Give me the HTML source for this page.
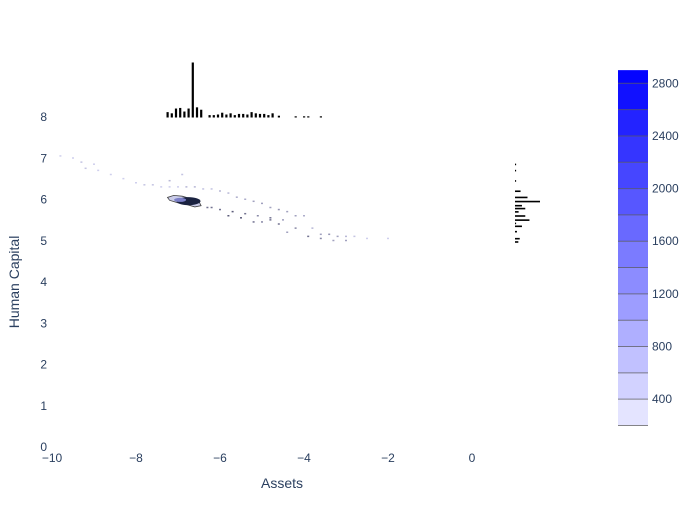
<!DOCTYPE html>
<html><head><meta charset="utf-8"><style>
body{margin:0;background:#fff;font-family:"Liberation Sans",sans-serif}
svg text{font-family:"Liberation Sans",sans-serif;fill:#2a3f5f}
</style></head><body>
<svg id="c" width="700" height="500" xmlns="http://www.w3.org/2000/svg"></svg>
<script>
// data arrays
const xTicks=[-10,-8,-6,-4,-2,0];
const yTicks=[0,1,2,3,4,5,6,7,8];
const cbTicks=[400,800,1200,1600,2000,2400,2800];
const cbLevels=[200,400,600,800,1000,1200,1400,1600,1800,2000,2200,2400,2600,2800,2900];
// top marginal histogram (assets bin centers, counts)
const hxBins=[-7.25,-7.15,-7.05,-6.95,-6.85,-6.75,-6.65,-6.55,-6.45,-6.25,-6.15,-6.05,-5.95,-5.85,-5.75,-5.65,-5.55,-5.45,-5.35,-5.25,-5.15,-5.05,-4.95,-4.85,-4.75,-4.6,-4.2,-4.0,-3.9,-3.6];
const hxCounts=[90,70,150,160,100,150,920,170,130,40,40,50,80,50,70,40,60,60,50,90,70,60,60,40,70,30,20,20,20,20];
// right marginal histogram (human capital bin centers, counts)
const hyBins=[6.85,6.7,6.45,6.2,6.05,5.95,5.85,5.78,5.7,5.6,5.5,5.42,5.35,5.22,5.05,4.97];
const hyCounts=[40,40,40,200,450,900,250,370,130,370,520,40,250,70,170,120];
// density dots (assets, human capital, level 0..1)
const dotX=[-9.8,-9.5,-9.3,-9.0,-9.2,-8.9,-8.6,-8.3,-8.0,-7.8,-7.6,-7.4,-7.2,-7.0,-6.8,-6.6,-6.4,-6.2,-6.0,-5.8,-5.6,-5.4,-5.2,-5.0,-4.8,-4.6,-4.4,-4.2,-4.0,-3.8,-3.6,-3.4,-3.2,-3.0,-2.8,-2.5,-2.0,-6.3,-6.0,-5.7,-5.4,-5.1,-4.8,-4.5,-7.2,-6.9,-5.0,-4.6,-4.2,-3.9,-3.6,-3.3,-3.0,-6.6,-6.2,-5.8,-5.5,-5.2,-4.8,-4.4];
const dotY=[7.05,7.0,6.9,6.85,6.75,6.7,6.6,6.5,6.4,6.35,6.35,6.3,6.3,6.3,6.3,6.3,6.25,6.25,6.2,6.15,6.05,6.0,5.95,5.9,5.8,5.75,5.7,5.6,5.6,5.3,5.15,5.15,5.1,5.1,5.1,5.05,5.05,5.8,5.75,5.7,5.65,5.6,5.55,5.5,6.45,6.6,5.45,5.4,5.3,5.1,5.05,5.0,5.0,5.85,5.8,5.6,5.55,5.45,5.5,5.2];
const dotV=[0.1,0.1,0.15,0.1,0.15,0.1,0.1,0.1,0.1,0.15,0.15,0.1,0.1,0.1,0.2,0.2,0.15,0.15,0.2,0.2,0.25,0.25,0.3,0.3,0.3,0.35,0.3,0.3,0.25,0.2,0.3,0.35,0.3,0.2,0.15,0.1,0.1,0.5,0.5,0.6,0.5,0.4,0.5,0.3,0.2,0.15,0.4,0.5,0.4,0.5,0.4,0.3,0.3,0.5,0.5,0.6,0.6,0.5,0.5,0.3];
// contour blob
const blobX=[-7.25,-7.1,-6.9,-6.7,-6.5,-6.45,-6.6,-6.8,-7.0,-7.2];
const blobY=[6.05,6.1,6.08,6.02,5.95,5.85,5.82,5.88,5.92,5.98];

const NS="http://www.w3.org/2000/svg";
const svg=document.getElementById('c');
function mk(t,a,p){const e=document.createElementNS(NS,t);for(const k in a)e.setAttribute(k,a[k]);(p||svg).appendChild(e);return e;}
const X=v=>52+(v+10)*42;
const Y=v=>447-v*41.25;
function col(v){const t=Math.min(1,(v-100)/2800);const c=Math.round(245*(1-t));return `rgb(${c},${c},255)`;}

// ticks
xTicks.forEach(v=>{const t=mk('text',{x:X(v),y:462,'font-size':12,'text-anchor':'middle'});t.textContent=v<0?'\u2212'+(-v):v;
});
yTicks.forEach(v=>{const t=mk('text',{x:47,y:Y(v)+4,'font-size':12,'text-anchor':'end'});t.textContent=v;
});
let t=mk('text',{x:282,y:488,'font-size':14,'text-anchor':'middle'});t.textContent='Assets';

t=mk('text',{x:19,y:282,'font-size':14,'text-anchor':'middle',transform:'rotate(-90 19 282)'});t.textContent='Human Capital';


// dots
dotX.forEach((x,i)=>{const v=dotV[i];const c=Math.round(230*(1-v));
const r=mk('rect',{x:X(x)-1,y:Y(dotY[i])-1,width:2,height:1.5,fill:`rgb(${c},${c},${Math.min(255,c+30)})`});
});
// blob
let pts=blobX.map((x,i)=>X(x)+','+Y(blobY[i])).join(' ');
let b=mk('polygon',{points:pts,fill:'#c9cbe8',stroke:'#444',"stroke-width":0.8});

b=mk('ellipse',{cx:X(-6.75),cy:Y(5.96),rx:12,ry:4,fill:'#1a2240'});

b=mk('ellipse',{cx:X(-6.95),cy:Y(5.99),rx:6,ry:2,fill:'#7b7fc8'});


// top histogram
const hxBase=117.5, hxScale=55/920;
hxBins.forEach((x,i)=>{const h=hxCounts[i]*hxScale;
const r=mk('rect',{x:X(x)-1,y:hxBase-h,width:2.2,height:h,fill:'#000'});
});
// right histogram
const hyBase=515, hyScale=25/900;
hyBins.forEach((y,i)=>{const w=hyCounts[i]*hyScale;
const r=mk('rect',{x:hyBase,y:Y(y)-0.8,width:w,height:1.6,fill:'#000'});
});

// colorbar
const CB=v=>425.5-(v-200)*(342.2/2600);
for(let i=0;i<cbLevels.length-1;i++){const y1=CB(cbLevels[i+1]),y0=CB(cbLevels[i]);
const r=mk('rect',{x:618,y:y1,width:30,height:y0-y1,fill:col((cbLevels[i]+cbLevels[i+1])/2)});

const l=mk('line',{x1:618,x2:648,y1:y0,y2:y0,stroke:'#555','stroke-width':1,opacity:0.7});
}
cbTicks.forEach(v=>{const t=mk('text',{x:652,y:CB(v)+4,'font-size':12});t.textContent=v;
});
</script>
</body></html>
